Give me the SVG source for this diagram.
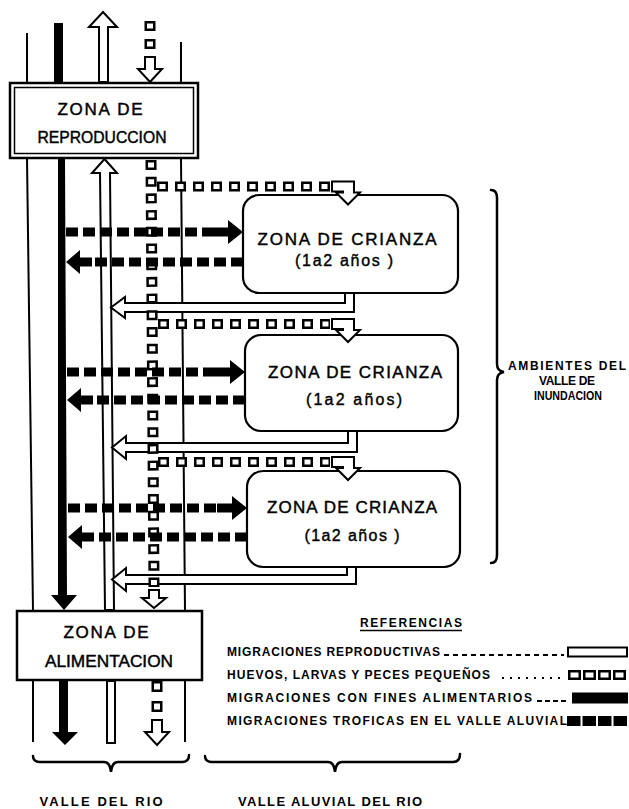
<svg xmlns="http://www.w3.org/2000/svg" xmlns:xlink="http://www.w3.org/1999/xlink" width="629" height="809" viewBox="0 0 629 809">
<style>
  .bg { fill: #ffffff; }
  .thin { stroke: #000; stroke-width: 2; fill: none; }
  .hollow { fill: #fff; stroke: #000; stroke-width: 2; stroke-linejoin: miter; }
  .solid { fill: #000; stroke: none; }
  .box { fill: #fff; stroke: #000; stroke-width: 2.5; }
  .rbox { fill: #fff; stroke: #000; stroke-width: 2.2; }
  .sqo { stroke: #000; fill: none; }
  .sqi { stroke: #fff; fill: none; }
  .dash { stroke: #000; stroke-width: 9; stroke-dasharray: 12 5; fill: none; }
  .t { font-family: "Liberation Sans", Arial, sans-serif; fill: #000; }
  .bt { font-size: 17px; text-anchor: middle; stroke: #000; stroke-width: 0.45; }
  .ct { font-size: 17px; text-anchor: middle; stroke: #000; stroke-width: 0.45; }
  .pt { font-size: 16px; text-anchor: middle; stroke: #000; stroke-width: 0.4; }
  .lg { font-size: 12px; font-weight: bold; }
  .lb { font-size: 12px; font-weight: bold; text-anchor: middle; }
  .vl { font-size: 13px; font-weight: bold; text-anchor: middle; }
  .brace { stroke: #000; stroke-width: 2.5; fill: none; stroke-linecap: round; }
  .lead { stroke: #000; stroke-width: 2; fill: none; }
</style>
<defs>
  <path id="hr" d="M-30,-4.5 H-15 V-12 L0,0 L-15,12 V4.5 H-30 Z"/>
  <path id="hl" d="M0,0 L14,-12 V-4.5 H26 V4.5 H14 V12 Z"/>
  <path id="dn" d="M-5,-25 H5 V-13 H12 L0,0 L-12,-13 H-5 Z"/>
  <path id="dn2" d="M-5,-18 H5 V-10 H12 L0,0 L-12,-10 H-5 Z"/>
  <path id="el" d="M0,-5 H22 V6 H28 L16,18 L4,6 H11 V5 H0 Z"/>
</defs>
<rect class="bg" x="0" y="0" width="629" height="809"/>

<g id="zona-reproduccion">
  <rect class="box" x="10" y="83" width="188" height="75"/>
  <rect x="14.5" y="87.5" width="179" height="66" fill="none" stroke="#000" stroke-width="1.5"/>
  <text class="t bt" x="100" y="115" textLength="85" lengthAdjust="spacing">ZONA DE</text>
  <text class="t bt" x="102" y="143" textLength="129" lengthAdjust="spacingAndGlyphs">REPRODUCCION</text>
</g>

<g id="zona-crianza-1">
  <rect class="rbox" x="243" y="195" width="215" height="98" rx="16"/>
  <text class="t ct" x="347" y="245" textLength="179" lengthAdjust="spacing">ZONA DE CRIANZA</text>
  <text class="t pt" x="344" y="266" textLength="98" lengthAdjust="spacing">(1a2 años )</text>
</g>

<g id="zona-crianza-2">
  <rect class="rbox" x="245" y="335" width="213" height="96" rx="16"/>
  <text class="t ct" x="355" y="378" textLength="174" lengthAdjust="spacing">ZONA DE CRIANZA</text>
  <text class="t pt" x="354" y="405" textLength="96" lengthAdjust="spacing">(1a2 años)</text>
</g>

<g id="zona-crianza-3">
  <rect class="rbox" x="247" y="471" width="213" height="96" rx="16"/>
  <text class="t ct" x="352" y="513" textLength="170" lengthAdjust="spacing">ZONA DE CRIANZA</text>
  <text class="t pt" x="352" y="541" textLength="95" lengthAdjust="spacing">(1a2 años )</text>
</g>

<g id="zona-alimentacion">
  <rect class="box" x="17" y="611" width="185" height="69" stroke-width="3"/>
  <text class="t bt" x="106" y="638" textLength="85" lengthAdjust="spacing">ZONA DE</text>
  <text class="t bt" x="109" y="667" textLength="128" lengthAdjust="spacingAndGlyphs">ALIMENTACION</text>
</g>

<g id="connectors">
  <!-- top section -->
  <line class="thin" x1="27" y1="33" x2="27" y2="83"/>
  <line class="thin" x1="181" y1="42" x2="181" y2="83"/>
  <rect class="solid" x="54" y="23" width="9" height="60"/>
  <path class="hollow" d="M103,12 L117,27 H108 V82 H99 V27 H89 Z"/>
  <line class="sqo" x1="150" y1="21" x2="150" y2="49" stroke-width="11" stroke-dasharray="10 8"/>
  <line class="sqi" x1="150" y1="21" x2="150" y2="49" stroke-width="6" stroke-dasharray="0 2.5 5 10.5"/>
  <use href="#dn" x="150" y="82" class="hollow"/>

  <!-- middle section verticals -->
  <line class="thin" x1="27" y1="158" x2="33" y2="611"/>
  <line class="thin" x1="181" y1="158" x2="185" y2="611"/>
  <path class="solid" d="M58,158 V595 H51 L64,610 L77,595 H67 L65,158 Z"/>
  <path class="hollow" d="M104.5,159 L117,173 H110 L114,610 H105 L100,173 H92 Z"/>

  <!-- bottom section -->
  <line class="thin" x1="33" y1="680" x2="33" y2="742"/>
  <line class="thin" x1="185" y1="680" x2="185" y2="742"/>
  <path class="solid" d="M59,680 V732 H52 L65,745 L78,732 H68 V680 Z"/>
  <rect class="hollow" x="107" y="681" width="8" height="62"/>
  <line class="sqo" x1="157" y1="681" x2="157" y2="713" stroke-width="11" stroke-dasharray="11 9"/>
  <line class="sqi" x1="157" y1="681" x2="157" y2="713" stroke-width="6" stroke-dasharray="0 2.5 6 11.5"/>
  <use href="#dn" x="157" y="745" class="hollow"/>

  <!-- return migrations from crianza zones -->
  <path class="hollow" d="M345,294 V303 H125 V297 L111,307.5 L125,318 V312 H354 V294"/>
  <path class="hollow" d="M348,432 V443 H126 V436 L112,447.5 L126,459 V452 H357 V432"/>
  <path class="hollow" d="M347,568 V575 H126 V568 L112,579.5 L126,591 V584 H356 V568"/>

  <!-- eggs / larvae column -->
  <line class="sqo" x1="151" y1="160" x2="154" y2="587" stroke-width="11" stroke-dasharray="10 6.7"/>
  <line class="sqi" x1="151" y1="160" x2="154" y2="587" stroke-width="6" stroke-dasharray="0 2.5 5 9.2"/>
  <use href="#dn2" x="154" y="608" class="hollow"/>

  <!-- eggs / larvae rows to crianza zones -->
  <line class="sqo" x1="157" y1="186.5" x2="330" y2="186.5" stroke-width="10" stroke-dasharray="11 7"/>
  <line class="sqi" x1="157" y1="186.5" x2="330" y2="186.5" stroke-width="5" stroke-dasharray="0 2.5 6 9.5"/>
  <use href="#el" x="332" y="186.5" class="hollow"/>
  <line class="sqo" x1="158" y1="324" x2="330" y2="324" stroke-width="10" stroke-dasharray="11 7"/>
  <line class="sqi" x1="158" y1="324" x2="330" y2="324" stroke-width="5" stroke-dasharray="0 2.5 6 9.5"/>
  <use href="#el" x="332" y="324" class="hollow"/>
  <line class="sqo" x1="158" y1="462" x2="330" y2="462" stroke-width="10" stroke-dasharray="11 7"/>
  <line class="sqi" x1="158" y1="462" x2="330" y2="462" stroke-width="5" stroke-dasharray="0 2.5 6 9.5"/>
  <use href="#el" x="332" y="462" class="hollow"/>

  <!-- trophic migrations (dashed black) -->
  <line class="dash" x1="66" y1="232" x2="213" y2="232"/>
  <use href="#hr" x="243" y="232" class="solid"/>
  <line class="dash" x1="243" y1="262" x2="92" y2="262"/>
  <use href="#hl" x="66" y="262" class="solid"/>

  <line class="dash" x1="67" y1="372" x2="215" y2="372"/>
  <use href="#hr" x="245" y="372" class="solid"/>
  <line class="dash" x1="245" y1="400" x2="93" y2="400"/>
  <use href="#hl" x="67" y="400" class="solid"/>

  <line class="dash" x1="68" y1="508" x2="217" y2="508"/>
  <use href="#hr" x="247" y="508" class="solid"/>
  <line class="dash" x1="247" y1="537" x2="94" y2="537"/>
  <use href="#hl" x="68" y="537" class="solid"/>
</g>

<g id="ambientes-label">
  <path class="brace" d="M491,190 Q497,190 497,198 V364 Q497,371 504,372 Q497,373 497,380 V555 Q497,563 491,563"/>
  <text class="t lb" x="567" y="370" textLength="118" lengthAdjust="spacing">AMBIENTES DEL</text>
  <text class="t lb" x="567" y="385" textLength="56" lengthAdjust="spacing">VALLE DE</text>
  <text class="t lb" x="568" y="400" textLength="68" lengthAdjust="spacingAndGlyphs">INUNDACION</text>
</g>

<g id="legend">
  <text class="t lg" x="411" y="627" text-anchor="middle" textLength="102" lengthAdjust="spacing">REFERENCIAS</text>
  <line x1="360" y1="630.5" x2="462" y2="630.5" stroke="#000" stroke-width="1.5"/>

  <text class="t lg" x="227" y="656" textLength="213" lengthAdjust="spacing">MIGRACIONES REPRODUCTIVAS</text>
  <line class="lead" x1="444" y1="655" x2="564" y2="655" stroke-dasharray="5 4"/>
  <rect class="hollow" x="568" y="647.5" width="59" height="9"/>

  <text class="t lg" x="227" y="679" textLength="263" lengthAdjust="spacing">HUEVOS, LARVAS Y PECES PEQUEÑOS</text>
  <line class="lead" x1="502" y1="678" x2="564" y2="678" stroke-dasharray="2 6"/>
  <line class="sqo" x1="568" y1="675" x2="628" y2="675" stroke-width="10" stroke-dasharray="13 2"/>
  <line class="sqi" x1="568" y1="675" x2="628" y2="675" stroke-width="5" stroke-dasharray="0 2.5 8 4.5"/>

  <text class="t lg" x="227" y="702" textLength="305" lengthAdjust="spacing">MIGRACIONES CON FINES ALIMENTARIOS</text>
  <line class="lead" x1="537" y1="701" x2="566" y2="701" stroke-dasharray="5 3"/>
  <rect class="solid" x="572" y="692.5" width="56" height="11"/>

  <text class="t lg" x="227" y="725" textLength="340" lengthAdjust="spacing">MIGRACIONES TROFICAS EN EL VALLE ALUVIAL</text>
  <line x1="567" y1="721" x2="629" y2="721" stroke="#000" stroke-width="10" stroke-dasharray="13.5 2"/>
</g>

<g id="valle-labels">
  <path class="brace" d="M33,756 Q33,762 40,762 H104 Q110,762 111,772 Q112,762 118,762 H182 Q189,762 189,755"/>
  <path class="brace" d="M205,756 Q205,762 212,762 H328 Q334,762 335,772 Q336,762 342,762 H453 Q460,762 460,754"/>
  <text class="t vl" x="101" y="806" textLength="123" lengthAdjust="spacing">VALLE DEL RIO</text>
  <text class="t vl" x="330" y="806" textLength="184" lengthAdjust="spacing">VALLE ALUVIAL DEL RIO</text>
</g>
</svg>
